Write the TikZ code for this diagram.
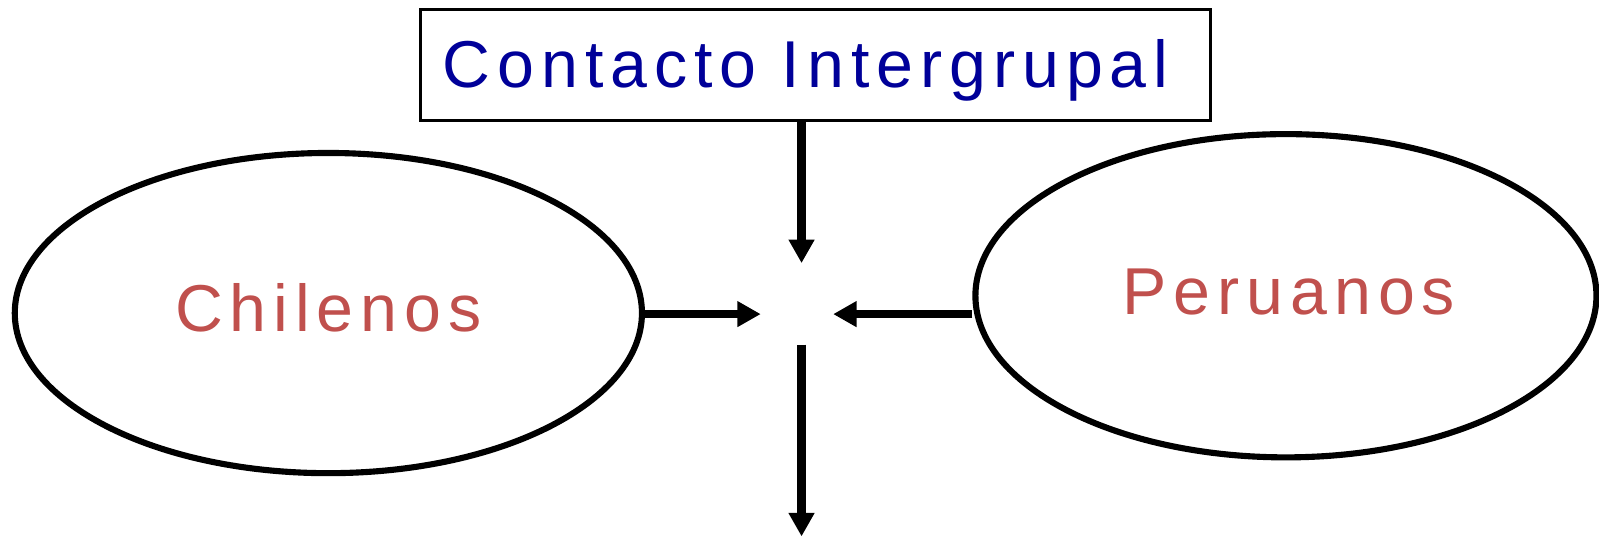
\documentclass[tikz,border=0pt]{standalone}
\usepackage{fontspec}
\newfontfamily\widesans{Liberation Sans}[LetterSpace=10.5]
\usetikzlibrary{shapes.geometric,arrows.meta}
\definecolor{titleblue}{RGB}{0,0,153}
\definecolor{grpred}{RGB}{192,80,77}
\tikzset{
  ell/.style={draw=black,line width=6pt,ellipse,inner sep=0pt},
  bigtxt/.style={font=\widesans\fontsize{65}{78}\selectfont,inner sep=0pt,anchor=base},
  arr/.style={line width=8pt,-{Triangle[length=23pt,width=24pt]}},
}
\begin{document}
\begin{tikzpicture}[x=1pt,y=-1pt]
\useasboundingbox (0,0) rectangle (1568,527.6);
\node[draw=black,line width=3pt,minimum width=775pt,minimum height=109pt,inner sep=0pt] (box) at (799.5,63.5) {};
\node[bigtxt,text=titleblue] (title) at (790,86) {Contacto Intergrupal};
\node[ell,minimum width=615pt,minimum height=314pt] (chi) at (322,307) {};
\node[bigtxt,text=grpred] (chit) at (322,325) {Chilenos};
\node[ell,minimum width=609pt,minimum height=317pt] (per) at (1261,290) {};
\node[bigtxt,text=grpred] (pert) at (1264,308) {Peruanos};
\coordinate (ttip) at (786,258);
\coordinate (ltip) at (746,308);
\coordinate (rtip) at (817,308);
\coordinate (bstart) at (786,338);
\coordinate (btip) at (786,526);
\draw[arr] (box.south -| ttip) -- (ttip);
\draw[arr] (chi.east |- ltip) -- (ltip);
\draw[arr] (per.west |- rtip) -- (rtip);
\draw[arr] (bstart) -- (btip);
\end{tikzpicture}
\end{document}
